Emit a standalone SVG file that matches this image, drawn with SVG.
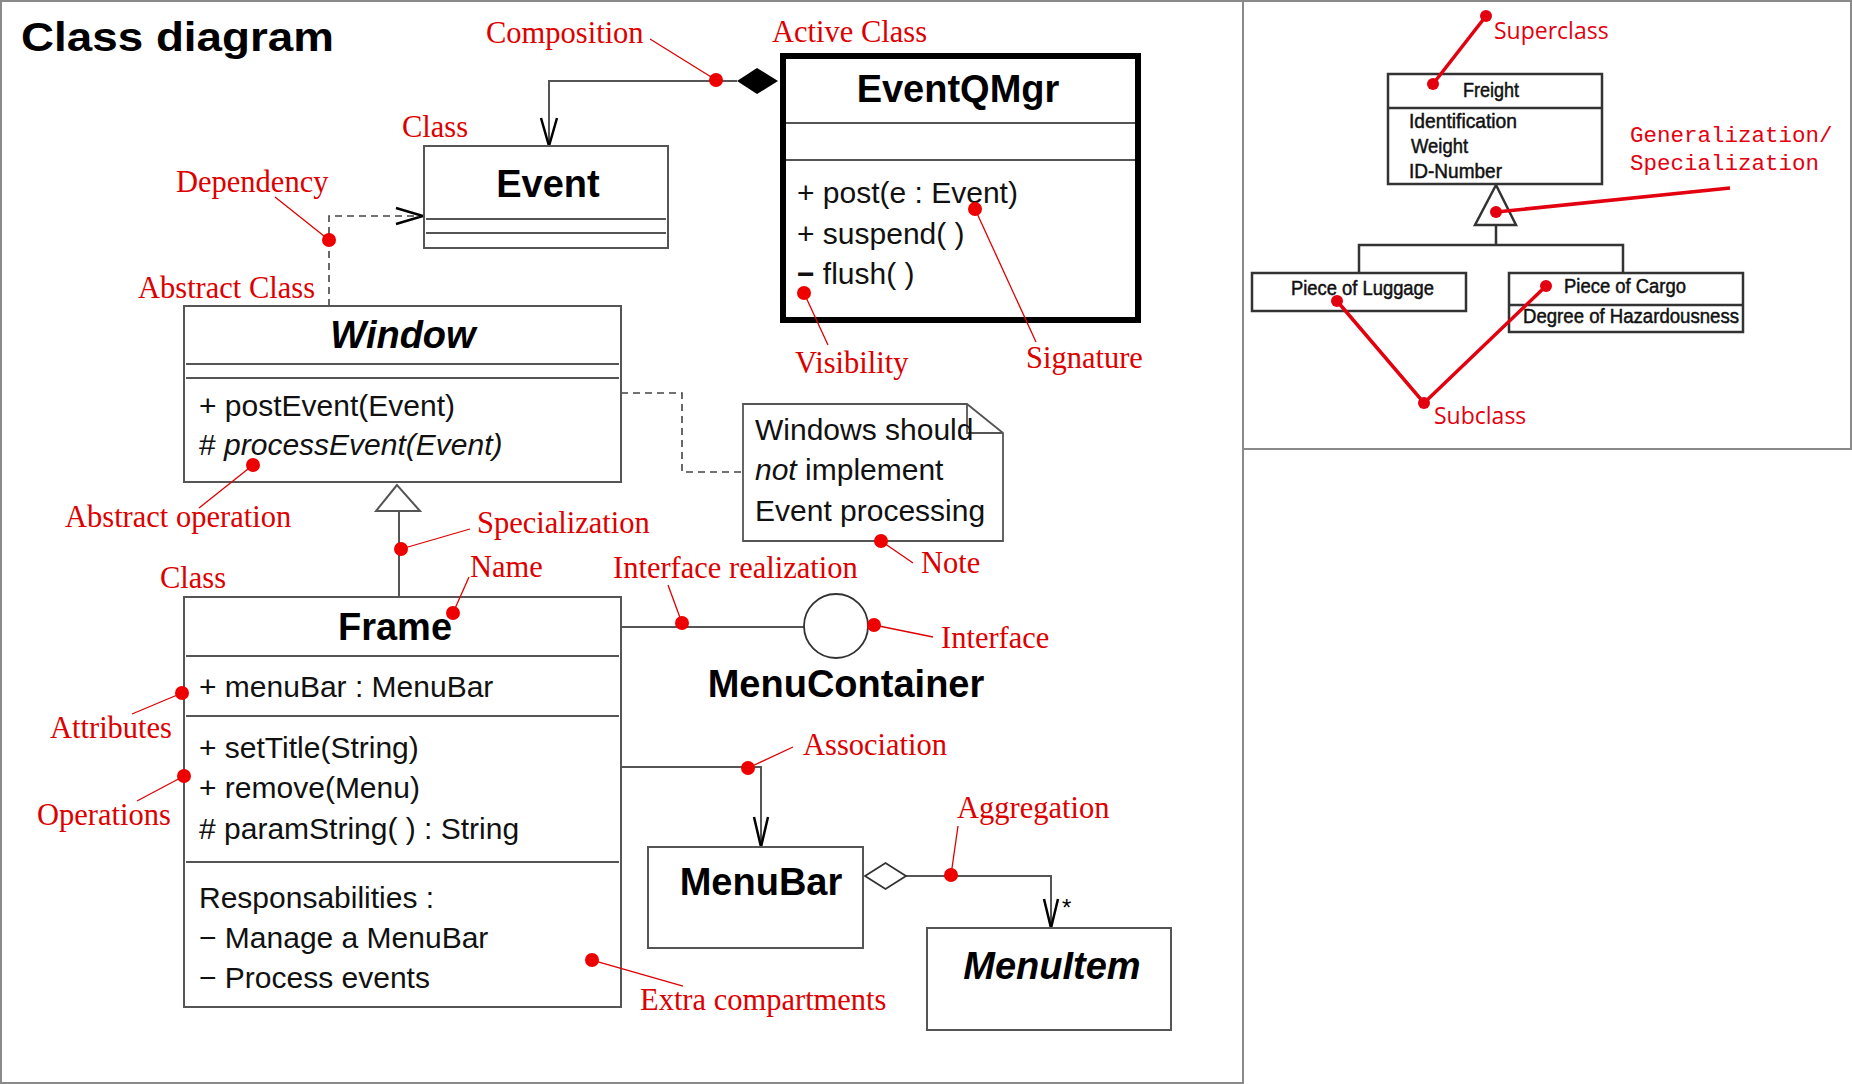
<svg xmlns="http://www.w3.org/2000/svg" width="1852" height="1084" viewBox="0 0 1852 1084">
<style>
.frame{fill:#fff;stroke:#8a8a8a;stroke-width:2}
.box{fill:#fff;stroke:#555;stroke-width:2}
.thick{fill:#fff;stroke:#000;stroke-width:6}
.ln{stroke:#555;stroke-width:2;fill:none}
.arr{stroke:#000;stroke-width:2.5;fill:none}
.dash{stroke:#444;stroke-width:1.6;fill:none;stroke-dasharray:7,5}
.t{font-family:"Liberation Sans",Arial,sans-serif;font-size:30px;fill:#111}
.nm{font-family:"Liberation Sans",Arial,sans-serif;font-size:38px;font-weight:bold;fill:#000}
.ann{font-family:"Liberation Serif","Times New Roman",serif;font-size:30.5px;fill:#dd0000}
.lead{stroke:#dd0000;stroke-width:1.3}
.dot{fill:#ee0000}
.rbox{fill:#fff;stroke:#333;stroke-width:2.5}
.rln{stroke:#333;stroke-width:2.5;fill:none}
.rt{font-family:"Liberation Sans",Arial,sans-serif;font-size:20.5px;fill:#111;stroke:#111;stroke-width:0.5}
.rann{font-family:"Open Sans","Noto Sans",sans-serif;font-size:23px;fill:#e3000f}
.rmono{font-family:"Liberation Mono","Courier New",monospace;font-size:22.5px;fill:#e3000f}
.rlead{stroke:#e3000f;stroke-width:3.5;fill:none}
.rdot{fill:#e3000f}
</style>
<rect x="0" y="0" width="1852" height="1084" fill="#fff"/>
<rect class="frame" x="1" y="1" width="1242" height="1082"/>
<rect class="frame" x="1243" y="1" width="608" height="448"/>
<text x="21" y="51" font-family="'Liberation Sans',Arial,sans-serif" font-size="41" font-weight="bold" fill="#000" textLength="313" lengthAdjust="spacingAndGlyphs">Class diagram</text>

<g id="connectors">
  <path class="ln" d="M737,81 H549 V146"/>
  <path class="arr" d="M541,118 L549,146 L557,118"/>
  <path d="M737,81 L757,68 L778,81 L757,94 Z" fill="#000"/>
  <path class="dash" d="M329,306 V216 H420"/>
  <path class="arr" d="M396,208 L423,216 L396,224" stroke-width="3"/>
  <path class="dash" d="M621,393 H682 V472 H742"/>
  <path class="ln" d="M399,511 V597"/>
  <path d="M397,485 L376,511 L420,511 Z" fill="#fff" stroke="#555" stroke-width="2"/>
  <path class="ln" d="M621,627 H804"/>
  <path class="ln" d="M621,767 H761 V847"/>
  <path class="arr" d="M754,817 L761,847 L768,817"/>
  <path class="ln" d="M906,876 H1051 V928"/>
  <path class="arr" d="M1044,899 L1051,928 L1058,899"/>
  <path d="M865,876 L885.5,863 L906,876 L885.5,889 Z" fill="#fff" stroke="#333" stroke-width="1.8"/>
  <text x="1062" y="916" font-family="'Liberation Sans',Arial,sans-serif" font-size="24" fill="#000">*</text>
  <path class="rln" d="M1496,225 V245 M1359,273 V245 H1623 V273"/>
  <path d="M1496,185 L1475,225 L1516,225 Z" fill="#fff" stroke="#333" stroke-width="2.5"/>
</g>

<g id="node-event">
  <rect class="box" x="424" y="146" width="244" height="102"/>
  <line class="ln" x1="426" y1="219" x2="666" y2="219"/>
  <line class="ln" x1="426" y1="233" x2="666" y2="233"/>
  <text class="nm" x="548" y="197" text-anchor="middle">Event</text>
</g>

<g id="node-eventqmgr">
  <rect class="thick" x="783" y="56" width="355" height="264"/>
  <line class="ln" x1="786" y1="123" x2="1135" y2="123"/>
  <line class="ln" x1="786" y1="160" x2="1135" y2="160"/>
  <text class="nm" x="958" y="102" text-anchor="middle">EventQMgr</text>
  <text class="t" x="797" y="203">+ post(e : Event)</text>
  <text class="t" x="797" y="244">+ suspend( )</text>
  <text class="t" x="797" y="284"><tspan font-weight="bold">−</tspan> flush( )</text>
</g>

<g id="node-window">
  <rect class="box" x="184" y="306" width="437" height="176"/>
  <line class="ln" x1="186" y1="364" x2="619" y2="364"/>
  <line class="ln" x1="186" y1="378" x2="619" y2="378"/>
  <text class="nm" x="403" y="348" text-anchor="middle" font-style="italic">Window</text>
  <text class="t" x="199" y="416">+ postEvent(Event)</text>
  <text class="t" x="199" y="455"># <tspan font-style="italic">processEvent(Event)</tspan></text>
</g>

<g id="node-note">
  <path d="M743,404 H967 L1003,433 V541 H743 Z" fill="#fff" stroke="#555" stroke-width="1.8"/>
  <path d="M967,404 V433 H1003" fill="none" stroke="#555" stroke-width="1.8"/>
  <text class="t" x="755" y="440">Windows should</text>
  <text class="t" x="755" y="480"><tspan font-style="italic">not</tspan> implement</text>
  <text class="t" x="755" y="521">Event processing</text>
</g>

<g id="node-frame">
  <rect class="box" x="184" y="597" width="437" height="410"/>
  <line class="ln" x1="186" y1="656" x2="619" y2="656"/>
  <line class="ln" x1="186" y1="716" x2="619" y2="716"/>
  <line class="ln" x1="186" y1="862" x2="619" y2="862"/>
  <text class="nm" x="395" y="640" text-anchor="middle">Frame</text>
  <text class="t" x="199" y="697">+ menuBar : MenuBar</text>
  <text class="t" x="199" y="758">+ setTitle(String)</text>
  <text class="t" x="199" y="798">+ remove(Menu)</text>
  <text class="t" x="199" y="839"># paramString( ) : String</text>
  <text class="t" x="199" y="908">Responsabilities :</text>
  <text class="t" x="199" y="948">− Manage a MenuBar</text>
  <text class="t" x="199" y="988">− Process events</text>
</g>

<g id="node-menucontainer">
  <circle cx="836" cy="626" r="32" fill="#fff" stroke="#333" stroke-width="1.8"/>
  <text class="nm" x="846" y="697" text-anchor="middle">MenuContainer</text>
</g>

<g id="node-menubar">
  <rect class="box" x="648" y="847" width="215" height="101"/>
  <text class="nm" x="761" y="895" text-anchor="middle">MenuBar</text>
</g>

<g id="node-menuitem">
  <rect class="box" x="927" y="928" width="244" height="102"/>
  <text class="nm" x="1052" y="979" text-anchor="middle" font-style="italic">MenuItem</text>
</g>

<g id="annotations">
  <line class="lead" x1="650" y1="39" x2="716" y2="80"/>
  <line class="lead" x1="275" y1="197" x2="329" y2="240"/>
  <line class="lead" x1="975" y1="209" x2="1036" y2="342"/>
  <line class="lead" x1="804" y1="293" x2="828" y2="345"/>
  <line class="lead" x1="253" y1="465" x2="199" y2="508"/>
  <line class="lead" x1="401" y1="549" x2="470" y2="529"/>
  <line class="lead" x1="453" y1="613" x2="469" y2="577"/>
  <line class="lead" x1="682" y1="623" x2="668" y2="585"/>
  <line class="lead" x1="874" y1="625" x2="933" y2="637"/>
  <line class="lead" x1="881" y1="541" x2="913" y2="563"/>
  <line class="lead" x1="182" y1="693" x2="132" y2="714"/>
  <line class="lead" x1="184" y1="776" x2="137" y2="801"/>
  <line class="lead" x1="748" y1="768" x2="793" y2="747"/>
  <line class="lead" x1="951" y1="875" x2="958" y2="826"/>
  <line class="lead" x1="592" y1="960" x2="683" y2="986"/>
  <circle class="dot" cx="716" cy="80" r="7"/>
  <circle class="dot" cx="329" cy="240" r="7"/>
  <circle class="dot" cx="975" cy="209" r="7"/>
  <circle class="dot" cx="804" cy="293" r="7"/>
  <circle class="dot" cx="253" cy="465" r="7"/>
  <circle class="dot" cx="401" cy="549" r="7"/>
  <circle class="dot" cx="453" cy="613" r="7"/>
  <circle class="dot" cx="682" cy="623" r="7"/>
  <circle class="dot" cx="874" cy="625" r="7"/>
  <circle class="dot" cx="881" cy="541" r="7"/>
  <circle class="dot" cx="182" cy="693" r="7"/>
  <circle class="dot" cx="184" cy="776" r="7"/>
  <circle class="dot" cx="748" cy="768" r="7"/>
  <circle class="dot" cx="951" cy="875" r="7"/>
  <circle class="dot" cx="592" cy="960" r="7"/>
  <text class="ann" x="486" y="43">Composition</text>
  <text class="ann" x="772" y="42">Active Class</text>
  <text class="ann" x="402" y="137">Class</text>
  <text class="ann" x="176" y="192">Dependency</text>
  <text class="ann" x="138" y="298">Abstract Class</text>
  <text class="ann" x="1026" y="368">Signature</text>
  <text class="ann" x="795" y="373">Visibility</text>
  <text class="ann" x="65" y="527">Abstract operation</text>
  <text class="ann" x="477" y="533">Specialization</text>
  <text class="ann" x="470" y="577">Name</text>
  <text class="ann" x="160" y="588">Class</text>
  <text class="ann" x="613" y="578">Interface realization</text>
  <text class="ann" x="941" y="648">Interface</text>
  <text class="ann" x="921" y="573">Note</text>
  <text class="ann" x="50" y="738">Attributes</text>
  <text class="ann" x="37" y="825">Operations</text>
  <text class="ann" x="803" y="755">Association</text>
  <text class="ann" x="957" y="818">Aggregation</text>
  <text class="ann" x="640" y="1010">Extra compartments</text>
</g>

<g id="node-freight">
  <rect class="rbox" x="1388" y="74" width="214" height="110"/>
  <line class="rln" x1="1388" y1="108" x2="1602" y2="108"/>
  <text class="rt" x="1463" y="97" textLength="56" lengthAdjust="spacingAndGlyphs">Freight</text>
  <text class="rt" x="1409" y="128" textLength="108" lengthAdjust="spacingAndGlyphs">Identification</text>
  <text class="rt" x="1411" y="153" textLength="57" lengthAdjust="spacingAndGlyphs">Weight</text>
  <text class="rt" x="1409" y="178" textLength="93" lengthAdjust="spacingAndGlyphs">ID-Number</text>
</g>

<g id="node-luggage">
  <rect class="rbox" x="1252" y="273" width="214" height="38"/>
  <text class="rt" x="1291" y="295" textLength="143" lengthAdjust="spacingAndGlyphs">Piece of Luggage</text>
</g>

<g id="node-cargo">
  <rect class="rbox" x="1509" y="273" width="234" height="59"/>
  <line class="rln" x1="1509" y1="305" x2="1743" y2="305"/>
  <text class="rt" x="1564" y="293" textLength="122" lengthAdjust="spacingAndGlyphs">Piece of Cargo</text>
  <text class="rt" x="1523" y="323" textLength="216" lengthAdjust="spacingAndGlyphs">Degree of Hazardousness</text>
</g>

<g id="right-annotations">
  <path class="rlead" d="M1433,84 L1486,16"/>
  <path class="rlead" d="M1496,212 L1730,188"/>
  <path class="rlead" d="M1337,301 L1424,403 L1546,286"/>
  <circle class="rdot" cx="1433" cy="84" r="6"/>
  <circle class="rdot" cx="1486" cy="16" r="6"/>
  <circle class="rdot" cx="1496" cy="212" r="6"/>
  <circle class="rdot" cx="1337" cy="301" r="6"/>
  <circle class="rdot" cx="1546" cy="286" r="6"/>
  <circle class="rdot" cx="1424" cy="403" r="6"/>
  <text class="rann" x="1494" y="39">Superclass</text>
  <text class="rmono" x="1630" y="142">Generalization/</text>
  <text class="rmono" x="1630" y="170">Specialization</text>
  <text class="rann" x="1434" y="424">Subclass</text>
</g>
</svg>
